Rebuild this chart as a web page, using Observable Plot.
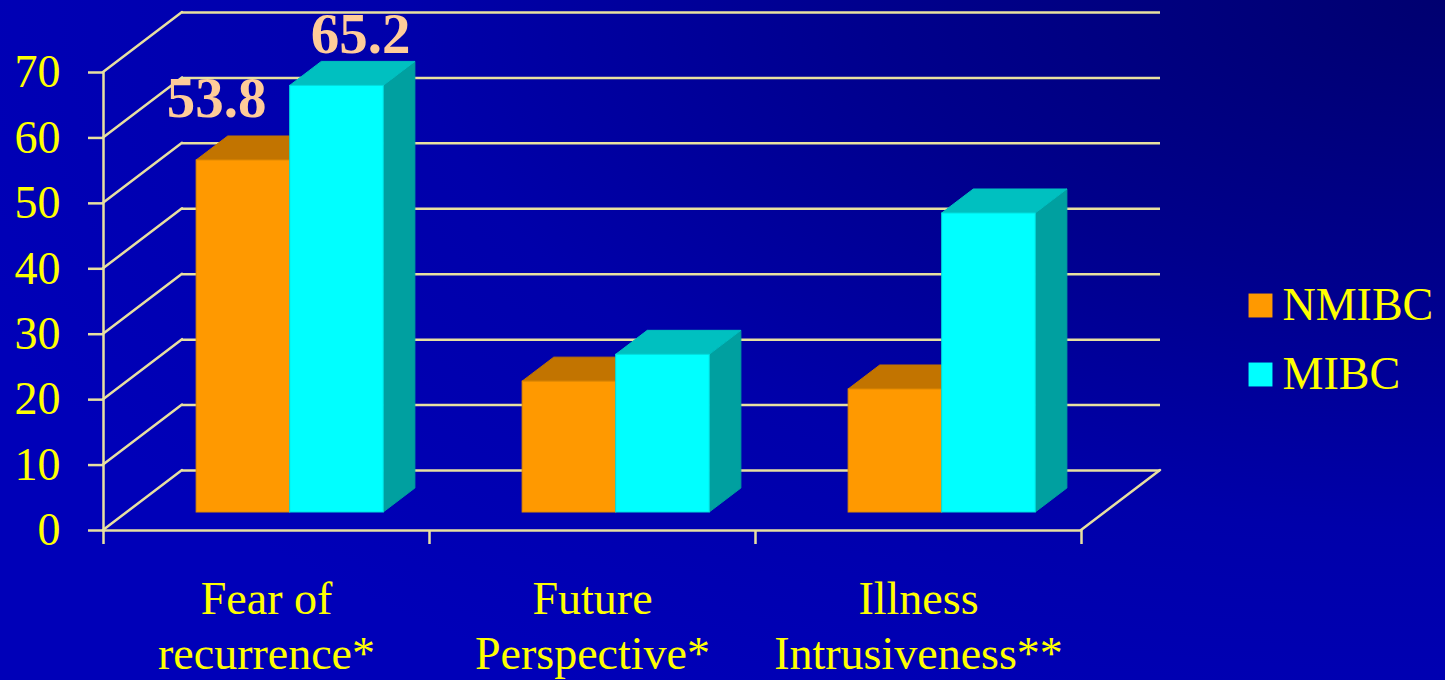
<!DOCTYPE html>
<html><head><meta charset="utf-8">
<script src="https://cdn.jsdelivr.net/npm/d3@7"></script>
<script src="https://cdn.jsdelivr.net/npm/@observablehq/plot@0.6"></script>
<style>
html,body{margin:0;padding:0;background:#0000a8;}
#wrap{position:relative;width:1445px;height:680px;overflow:hidden;
  background: radial-gradient(ellipse 110% 120% at 100% 0%, #000070 0%, #00008c 35%, #0000aa 65%, #0000b8 100%);}
#chart{position:absolute;left:0;top:0;}
#legend{position:absolute;left:1230px;top:270px;}
</style></head>
<body><div id="wrap"><div id="chart"></div><div id="legend"></div></div>
<script>
// ---- data ----
const categories = ["Fear of\nrecurrence*", "Future\nPerspective*", "Illness\nIntrusiveness**"];
const series = ["NMIBC", "MIBC"];
const nmibc = [53.8, 20.0, 18.8];
const mibc = [65.2, 24.1, 45.7];
const yTicks = [0, 10, 20, 30, 40, 50, 60, 70];

// ---- styles ----
const SERIF = '"Liberation Serif", "Times New Roman", Times, serif';
const YELLOW = "#ffff00";
const GRID = "#e8e0a0";
const PEACH = "#ffcc99";
const FRONT = ["#ff9900", "#00ffff"];
const TOP = ["#c27400", "#00c0c0"];
const SIDE = ["#9a5c00", "#00a0a0"];
const EDGE = ["#e08a00", "#00dede"];
const W = 1445, H = 680, mL = 103, mR = 364, mT = 72, mB = 150;
const DEPTH = [79, -60];            // full depth of the floor in pixels
const bandW = (W - mL - mR) / categories.length;
const barW = bandW * 0.287;
const outer = (bandW - 2 * barW) / 2;
const NS = "http://www.w3.org/2000/svg";

function diagonals(ticks, side) {
  return Plot.ruleY(ticks, {
    y: d => d,
    render(index, scales, values, dims) {
      const x0 = side === "left" ? dims.marginLeft : dims.width - dims.marginRight;
      const g = d3.create("svg:g").attr("stroke", GRID).attr("stroke-width", 2.5).attr("stroke-linecap", "round");
      for (const i of index) {
        g.append("line").attr("x1", x0).attr("y1", values.y[i])
          .attr("x2", x0 + DEPTH[0]).attr("y2", values.y[i] + DEPTH[1]);
      }
      return g.node();
    }
  });
}

function box3d(vals, s) {
  const data = categories.map((c, i) => ({c, v: vals[i]}));
  const left = s === 0 ? outer : outer + barW;
  const right = bandW - left - barW;
  return Plot.barY(data, {
    x: "c", y: "v", fill: FRONT[s], stroke: EDGE[s], strokeWidth: 1,
    insetLeft: left, insetRight: right,
    dx: DEPTH[0] * 0.3, dy: DEPTH[1] * 0.3,
    render(index, scales, values, dims, ctx, next) {
      const g = next(index, scales, values, dims, ctx);
      const bx = DEPTH[0] * 0.4, by = DEPTH[1] * 0.4;
      for (const r of Array.from(g.querySelectorAll("rect"))) {
        const x0 = +r.getAttribute("x"), w = +r.getAttribute("width");
        const y0 = +r.getAttribute("y"), h = +r.getAttribute("height");
        const x1 = x0 + w, y1 = y0 + h;
        const sidePoly = document.createElementNS(NS, "polygon");
        sidePoly.setAttribute("points", `${x1},${y0} ${x1 + bx},${y0 + by} ${x1 + bx},${y1 + by} ${x1},${y1}`);
        sidePoly.setAttribute("fill", SIDE[s]); sidePoly.setAttribute("stroke", SIDE[s]);
        const topPoly = document.createElementNS(NS, "polygon");
        topPoly.setAttribute("points", `${x0},${y0} ${x1},${y0} ${x1 + bx},${y0 + by} ${x0 + bx},${y0 + by}`);
        topPoly.setAttribute("fill", TOP[s]); topPoly.setAttribute("stroke", TOP[s]);
        r.parentNode.insertBefore(sidePoly, r);
        r.parentNode.insertBefore(topPoly, r);
      }
      return g;
    }
  });
}

const chart = Plot.plot({
  width: W, height: H,
  marginLeft: mL, marginRight: mR, marginTop: mT, marginBottom: mB,
  style: {background: "transparent", fontFamily: SERIF},
  x: {domain: categories, padding: 0, axis: null},
  y: {domain: [0, 70], axis: null},
  marks: [
    // back wall grid
    Plot.ruleY(yTicks, {stroke: GRID, strokeWidth: 2.5, dx: DEPTH[0], dy: DEPTH[1]}),
    diagonals(yTicks, "left"),
    diagonals([0], "right"),
    Plot.ruleY([0], {stroke: GRID, strokeWidth: 2.5}),
    Plot.frame({anchor: "left", stroke: GRID, strokeWidth: 2.5}),
    Plot.axisY({ticks: yTicks, tickSize: 15, tickPadding: 28, stroke: GRID, strokeWidth: 2.5,
      fill: YELLOW, fontSize: 46, fontFamily: SERIF, label: null}),
    Plot.axisX({ticks: categories, tickSize: 14, dx: -bandW / 2, stroke: GRID, strokeWidth: 2.5,
      tickFormat: () => "", label: null}),
    Plot.axisX({ticks: [categories[categories.length - 1]], tickSize: 14, dx: bandW / 2, stroke: GRID,
      strokeWidth: 2.5, tickFormat: () => "", label: null}),
    Plot.axisX({ticks: categories, tickSize: 0, tickPadding: 44, fontSize: 46, lineHeight: 1.2,
      fill: YELLOW, fontFamily: SERIF, label: null}),
    box3d(nmibc, 0),
    box3d(mibc, 1),
    Plot.text([{c: categories[0], v: nmibc[0]}], {x: "c", y: "v", text: d => d.v.toFixed(1), dx: -50, dy: -61,
      lineAnchor: "bottom", fontSize: 57, fontWeight: "bold", fill: PEACH, fontFamily: SERIF}),
    Plot.text([{c: categories[0], v: mibc[0]}], {x: "c", y: "v", text: d => d.v.toFixed(1), dx: 94, dy: -51,
      lineAnchor: "bottom", fontSize: 57, fontWeight: "bold", fill: PEACH, fontFamily: SERIF})
  ]
});
document.getElementById("chart").append(chart);

const legend = Plot.plot({
  width: 215, height: 140, margin: 0,
  style: {background: "transparent", fontFamily: SERIF},
  x: {axis: null},
  y: {type: "point", domain: series, range: [35, 104], padding: 0, axis: null},
  color: {domain: series, range: FRONT},
  marks: [
    Plot.dot(series, {y: d => d, frameAnchor: "left", dx: 30, symbol: "square", r: 13.5, fill: d => d}),
    Plot.text(series, {y: d => d, frameAnchor: "left", dx: 52, text: d => d, textAnchor: "start",
      fontSize: 46, fill: YELLOW, fontFamily: SERIF})
  ]
});
document.getElementById("legend").append(legend);
</script>
</body></html>
